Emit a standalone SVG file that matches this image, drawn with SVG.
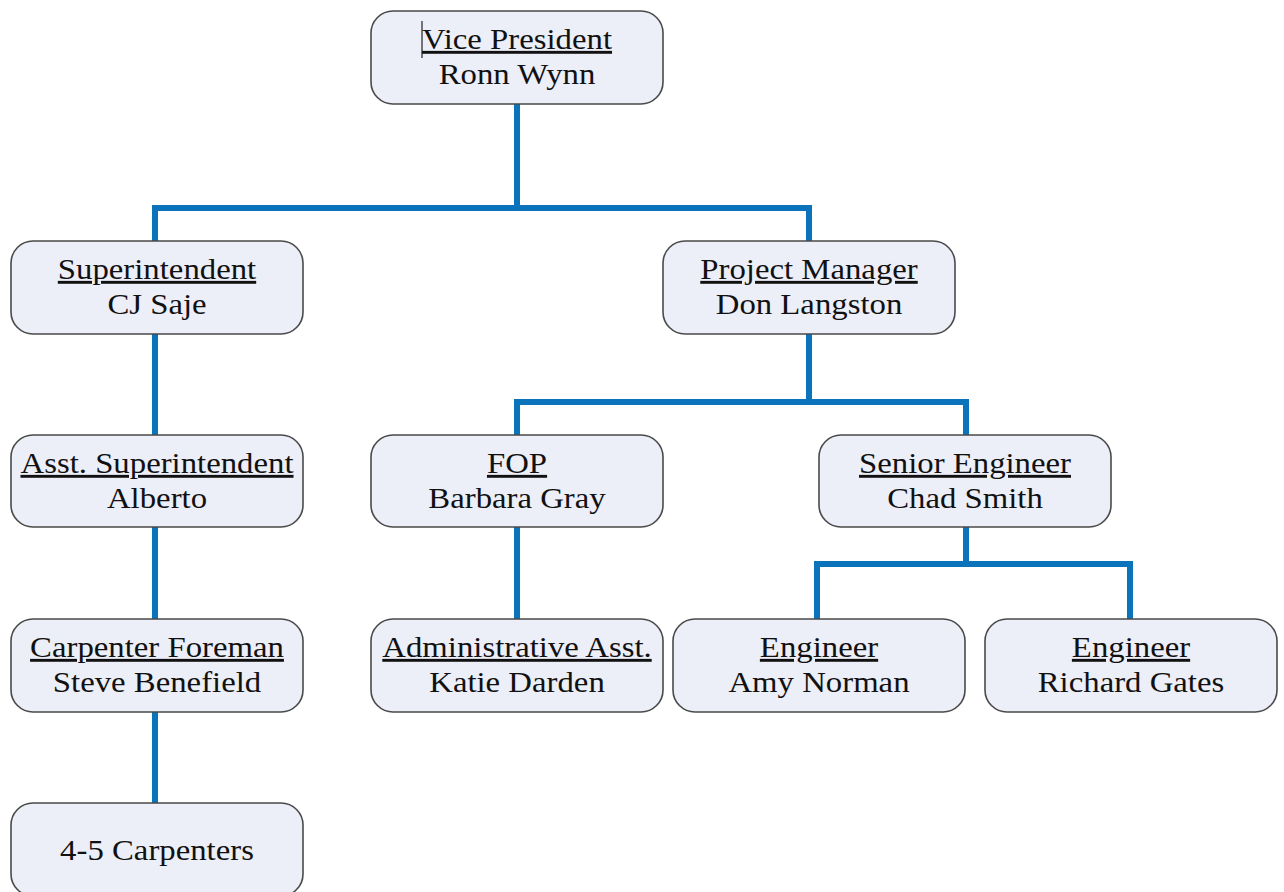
<svg xmlns="http://www.w3.org/2000/svg" width="1284" height="892" viewBox="0 0 1284 892">
<style>
.box{fill:#eceef8;stroke:#4a4a4a;stroke-width:1.6}
.t{font-family:"Liberation Serif","Times New Roman",serif;font-size:29px;fill:#111;text-anchor:middle}
.u{text-decoration:underline}
.c{fill:none;stroke:#0b73bb;stroke-width:6;stroke-linejoin:miter}
</style>
<rect width="1284" height="892" fill="#ffffff"/>
<g id="connectors">
<path class="c" d="M517,104 V208 M155,241 V208 H809 V241"/>
<path class="c" d="M155,334 V435"/>
<path class="c" d="M809,334 V402 M517,435 V402 H966 V435"/>
<path class="c" d="M155,527 V619"/>
<path class="c" d="M517,527 V619"/>
<path class="c" d="M966,527 V564 M817,619 V564 H1130 V619"/>
<path class="c" d="M155,712 V803"/>
</g>
<g id="vp"><rect class="box" x="371" y="11" width="292" height="93" rx="22"/>
<line x1="422" y1="21" x2="422" y2="58" stroke="#222" stroke-width="1.2"/>
<text class="t u" transform="translate(517,49) scale(1.13,1)">Vice President</text><text class="t" transform="translate(517,84) scale(1.13,1)">Ronn Wynn</text></g>
<g id="sup"><rect class="box" x="11" y="241" width="292" height="93" rx="22"/>
<text class="t u" transform="translate(157,279) scale(1.13,1)">Superintendent</text><text class="t" transform="translate(157,314) scale(1.13,1)">CJ Saje</text></g>
<g id="pm"><rect class="box" x="663" y="241" width="292" height="93" rx="22"/>
<text class="t u" transform="translate(809,279) scale(1.13,1)">Project Manager</text><text class="t" transform="translate(809,314) scale(1.13,1)">Don Langston</text></g>
<g id="asst"><rect class="box" x="11" y="435" width="292" height="92" rx="22"/>
<text class="t u" transform="translate(157,473) scale(1.13,1)">Asst. Superintendent</text><text class="t" transform="translate(157,508) scale(1.13,1)">Alberto</text></g>
<g id="fop"><rect class="box" x="371" y="435" width="292" height="92" rx="22"/>
<text class="t u" transform="translate(517,473) scale(1.13,1)">FOP</text><text class="t" transform="translate(517,508) scale(1.13,1)">Barbara Gray</text></g>
<g id="senior"><rect class="box" x="819" y="435" width="292" height="92" rx="22"/>
<text class="t u" transform="translate(965,473) scale(1.13,1)">Senior Engineer</text><text class="t" transform="translate(965,508) scale(1.13,1)">Chad Smith</text></g>
<g id="carp"><rect class="box" x="11" y="619" width="292" height="93" rx="22"/>
<text class="t u" transform="translate(157,657) scale(1.13,1)">Carpenter Foreman</text><text class="t" transform="translate(157,692) scale(1.13,1)">Steve Benefield</text></g>
<g id="admin"><rect class="box" x="371" y="619" width="292" height="93" rx="22"/>
<text class="t u" transform="translate(517,657) scale(1.13,1)">Administrative Asst.</text><text class="t" transform="translate(517,692) scale(1.13,1)">Katie Darden</text></g>
<g id="eng1"><rect class="box" x="673" y="619" width="292" height="93" rx="22"/>
<text class="t u" transform="translate(819,657) scale(1.13,1)">Engineer</text><text class="t" transform="translate(819,692) scale(1.13,1)">Amy Norman</text></g>
<g id="eng2"><rect class="box" x="985" y="619" width="292" height="93" rx="22"/>
<text class="t u" transform="translate(1131,657) scale(1.13,1)">Engineer</text><text class="t" transform="translate(1131,692) scale(1.13,1)">Richard Gates</text></g>
<g id="carpenters"><rect class="box" x="11" y="803" width="292" height="93" rx="22"/>
<text class="t" transform="translate(157,860) scale(1.13,1)">4-5 Carpenters</text></g>
</svg>
